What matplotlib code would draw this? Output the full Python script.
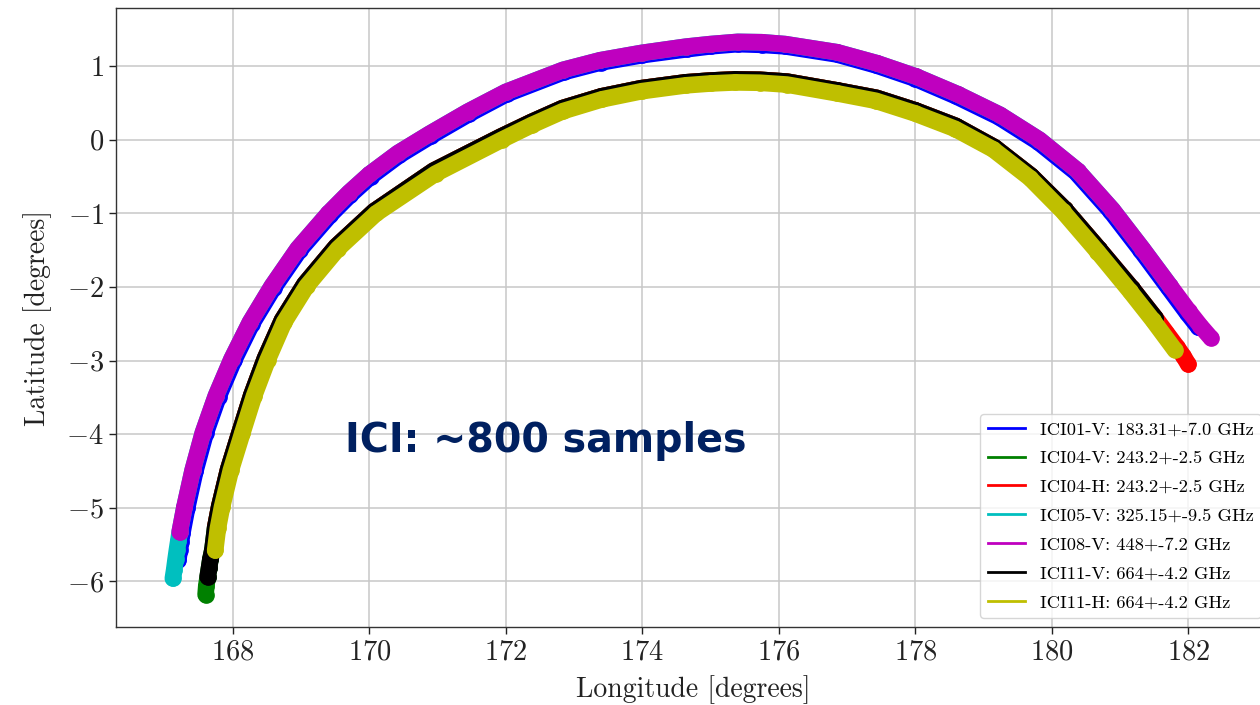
"""ICI footprint geolocation: one scan arc per channel."""

import matplotlib.pyplot as plt
from matplotlib.lines import Line2D

# scan arcs (longitude / latitude in degrees)
# upper arc: centre of the ICI05-V / ICI08-V footprints
upper_lon = [167.12, 167.14, 167.16, 167.18, 167.20, 167.22, 167.29, 167.41, 167.56, 167.75,
             167.98, 168.25, 168.57, 168.95, 169.40, 169.70, 170.00, 170.42, 170.88, 171.44,
             172.00, 172.84, 173.38, 173.99, 174.64, 175.00, 175.40, 175.75, 176.09, 176.85,
             177.44, 178.01, 178.62, 179.24, 179.82, 180.38, 180.89, 181.33, 181.73, 182.01,
             182.18, 182.33]
upper_lat = [-5.96, -5.84, -5.70, -5.57, -5.45, -5.33, -4.99, -4.49, -3.98, -3.48,
             -2.98, -2.48, -1.99, -1.48, -1.00, -0.72, -0.47, -0.18, 0.08, 0.38,
             0.65, 0.95, 1.08, 1.18, 1.265, 1.30, 1.33, 1.325, 1.30, 1.19,
             1.04, 0.86, 0.62, 0.34, 0.00, -0.42, -0.95, -1.48, -1.98, -2.33,
             -2.53, -2.69]

# inner edge of the upper arc: ICI01-V
inner_lon = [167.20, 167.22, 167.24, 167.26, 167.33, 167.45, 167.60, 167.79, 168.02, 168.28,
             168.60, 168.98, 169.43, 169.72, 170.02, 170.44, 170.90, 171.46, 172.01, 172.85,
             173.39, 174.00, 174.65, 175.00, 175.40, 175.75, 176.09, 176.85, 177.43, 178.00,
             178.60, 179.22, 179.80, 180.35, 180.86, 181.30, 181.70, 181.98, 182.15]
inner_lat = [-5.71, -5.58, -5.46, -5.34, -5.00, -4.50, -3.99, -3.49, -2.99, -2.50,
             -2.01, -1.50, -1.02, -0.75, -0.50, -0.21, 0.05, 0.35, 0.62, 0.92,
             1.05, 1.15, 1.23, 1.27, 1.30, 1.29, 1.27, 1.16, 1.01, 0.83,
             0.59, 0.31, -0.03, -0.44, -0.97, -1.50, -2.00, -2.35, -2.55]

# lower arc: centre of the ICI11-H footprints
lower_lon = [167.74, 167.78, 167.84, 167.97, 168.14, 168.31, 168.51, 168.75, 169.08, 169.54,
             170.10, 170.97, 171.94, 172.38, 172.84, 173.41, 173.99, 174.64, 175.00, 175.36,
             175.72, 176.12, 176.86, 177.42, 177.99, 178.58, 179.14, 179.68, 180.16, 180.67,
             181.14, 181.48, 181.80]
lower_lat = [-5.58, -5.28, -4.99, -4.49, -3.98, -3.48, -2.99, -2.48, -1.99, -1.48,
             -1.00, -0.46, 0.00, 0.20, 0.39, 0.55, 0.66, 0.74, 0.765, 0.78,
             0.775, 0.75, 0.63, 0.53, 0.36, 0.15, -0.13, -0.52, -0.97, -1.52,
             -2.05, -2.45, -2.85]

# outer edge of the lower arc: ICI04-V / ICI04-H / ICI11-V
outer_lon = [167.60, 167.61, 167.63, 167.65, 167.67, 167.70, 167.74, 167.80, 167.93, 168.10,
             168.27, 168.47, 168.72, 169.05, 169.51, 170.07, 170.94, 171.92, 172.37, 172.83,
             173.40, 173.98, 174.63, 175.00, 175.36, 175.72, 176.12, 176.86, 177.43, 178.00,
             178.59, 179.16, 179.70, 180.19, 180.70, 181.18, 181.52, 181.68, 181.84, 181.93,
             182.00]
outer_lat = [-6.18, -6.06, -5.94, -5.82, -5.70, -5.57, -5.27, -4.98, -4.48, -3.97,
             -3.47, -2.97, -2.45, -1.96, -1.45, -0.97, -0.42, 0.04, 0.24, 0.43,
             0.59, 0.70, 0.78, 0.805, 0.82, 0.815, 0.79, 0.67, 0.57, 0.40,
             0.19, -0.10, -0.49, -0.94, -1.49, -2.02, -2.42, -2.62, -2.82, -2.94,
             -3.05]

TRACKS = {
    "upper": (upper_lon, upper_lat),
    "inner": (inner_lon, inner_lat),
    "lower": (lower_lon, lower_lat),
    "outer": (outer_lon, outer_lat),
}

channel_labels = [
    "ICI01-V: 183.31+-7.0 GHz",
    "ICI04-V: 243.2+-2.5 GHz",
    "ICI04-H: 243.2+-2.5 GHz",
    "ICI05-V: 325.15+-9.5 GHz",
    "ICI08-V: 448+-7.2 GHz",
    "ICI11-V: 664+-4.2 GHz",
    "ICI11-H: 664+-4.2 GHz",
]
channel_track = ["inner", "outer", "outer", "upper", "upper", "outer", "lower"]
channel_first = [0, 0, 6, 0, 5, 2, 0]
channel_last = [None, 35, None, 39, None, 37, None]
channel_colors = ["b", "g", "r", "c", "m", "k", "y"]

NAVY = "#002060"


def main() -> None:
    plt.rcParams["font.family"] = "cmr10"
    plt.rcParams["mathtext.fontset"] = "cm"
    plt.rcParams["axes.formatter.use_mathtext"] = True

    fig = plt.figure(figsize=(12.6, 7.05), dpi=100)
    ax = fig.add_axes([0.0917, 0.1106, 0.9163, 0.878])

    handles = []
    for label, trk, i0, i1, col in zip(channel_labels, channel_track, channel_first,
                                       channel_last, channel_colors):
        lon, lat = TRACKS[trk]
        ax.plot(lon[i0:i1], lat[i0:i1], "-o", color=col, lw=12.0, ms=11.0,
                solid_capstyle="round", solid_joinstyle="round")
        handles.append(Line2D([], [], color=col, lw=2.0, label=label))

    ax.set_xlim(166.28, 183.2)
    ax.set_ylim(-6.62, 1.79)
    ax.set_xticks(range(168, 183, 2))
    ax.set_yticks(range(-6, 2))
    ax.tick_params(labelsize=20.5, length=5, width=1.0, colors="#222222")
    ax.grid(True, color="#c8c8c8", lw=1.1)
    ax.set_axisbelow(True)
    for sp in ax.spines.values():
        sp.set_linewidth(1.0)
        sp.set_color("#333333")

    ax.set_xlabel("Longitude [degrees]", fontsize=20, color="#222222", labelpad=7)
    ax.set_ylabel("Latitude [degrees]", fontsize=20, color="#222222", labelpad=10)

    ax.legend(handles=handles, loc="lower right", fontsize=13.3, borderaxespad=0.5,
              labelspacing=0.7)

    fig.text(345 / 1260, 1 - 452 / 705, "ICI: ~800 samples", family="DejaVu Sans",
             fontweight="bold", fontsize=28.5, color=NAVY, va="baseline", ha="left")

    fig.savefig("out.png", dpi=100)
    plt.close(fig)


if __name__ == "__main__":
    main()
